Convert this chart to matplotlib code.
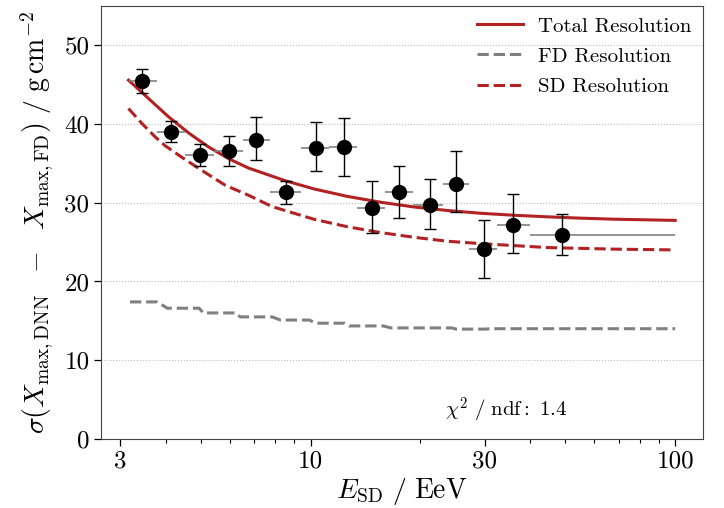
import numpy as np
import matplotlib
matplotlib.use("Agg")
import matplotlib.pyplot as plt
from matplotlib.ticker import FixedLocator, FixedFormatter, NullFormatter

plt.rcParams["font.family"] = "serif"
plt.rcParams["font.serif"] = ["cmr10"]
plt.rcParams["mathtext.fontset"] = "cm"
plt.rcParams["axes.unicode_minus"] = False

# data points (E_SD in EeV, resolution in g/cm^2)
e_pts = [3.45, 4.13, 4.98, 5.98, 7.06, 8.57, 10.35, 12.3, 14.7, 17.5, 21.3, 25.1, 29.9, 35.9, 49.0]
res_pts = [45.4, 39.0, 36.0, 36.6, 38.0, 31.3, 37.0, 37.1, 29.3, 31.4, 29.7, 32.4, 24.1, 27.2, 25.9]
res_hi = [47.0, 40.4, 37.4, 38.4, 40.9, 32.7, 40.3, 40.8, 32.7, 34.6, 33.0, 36.6, 27.8, 31.1, 28.6]
res_lo = [43.9, 37.7, 34.6, 34.6, 35.4, 29.8, 34.0, 33.4, 26.2, 28.1, 26.6, 28.8, 20.5, 23.6, 23.3]
bin_edges = [3.18, 3.79, 4.52, 5.44, 6.53, 7.74, 9.42, 11.24, 13.4, 16.0, 19.1, 23.1, 27.2, 32.5, 40.0, 100.0]

# curves
e_tot = [3.16, 3.59, 4.07, 4.62, 5.23, 5.94, 6.74, 8.49, 10.19, 12.58, 15.56, 19.22, 23.75,
         29.3, 36.15, 44.69, 55.2, 68.1, 100]
res_tot = [45.55, 43.2, 40.9, 38.85, 37.1, 35.6, 34.4, 32.8, 31.75, 30.8, 30.05, 29.45, 29.0,
           28.65, 28.4, 28.2, 28.03, 27.9, 27.75]

e_sd = [3.16, 3.44, 3.74, 3.99, 4.43, 5.02, 5.83, 6.74, 7.83, 10.19, 12.58, 15.56, 19.22, 23.75,
        29.3, 36.15, 44.69, 68.1, 100]
res_sd = [41.95, 40.05, 38.35, 37.2, 35.75, 34.1, 32.2, 30.95, 29.5, 27.9, 26.95, 26.2, 25.6, 25.1,
          24.8, 24.55, 24.3, 24.1, 24.0]

e_fd = [3.19, 3.79, 4.04, 4.94, 5.07, 6.24, 6.40, 7.83, 8.26, 9.92, 10.3, 12.4, 12.75, 15.8, 16.6, 24.4, 25.0, 30.2, 31.0, 100]
res_fd = [17.4, 17.4, 16.6, 16.6, 16.0, 16.0, 15.5, 15.5, 15.1, 15.1, 14.7, 14.7, 14.35, 14.35,
          14.1, 14.1, 13.95, 13.95, 14.0, 14.0]

red = "#b22222"

fig = plt.figure(figsize=(7.24, 5.08), dpi=100)
ax = fig.add_axes([0.1398, 0.1358, 0.8308, 0.853])

ax.plot(e_tot, res_tot, color=red, lw=2.2, label="Total Resolution", zorder=2)
ax.plot(e_fd, res_fd, color="gray", lw=2.2, ls="--", label="FD Resolution", zorder=2)
ax.plot(e_sd, res_sd, color=red, lw=2.2, ls="--", label="SD Resolution", zorder=2)

x = np.array(e_pts)
edges = np.array(bin_edges)
xerr = [x - edges[:-1], edges[1:] - x]
y = np.array(res_pts)
yerr = [y - np.array(res_lo), np.array(res_hi) - y]

ax.errorbar(x, y, xerr=xerr, fmt="none", ecolor="gray", elinewidth=1.2, zorder=3)
ax.errorbar(x, y, yerr=yerr, fmt="o", color="k", ms=10, ecolor="k",
            elinewidth=1.0, capsize=4.5, capthick=1.0, zorder=4)

ax.set_xscale("log")
ax.set_xlim(2.66, 119)
ax.set_ylim(0, 55)
ax.xaxis.set_major_locator(FixedLocator([3, 10, 30, 100]))
ax.xaxis.set_major_formatter(FixedFormatter(["3", "10", "30", "100"]))
ax.xaxis.set_minor_locator(FixedLocator([4, 5, 6, 7, 8, 9, 20, 40, 50, 60, 70, 80, 90]))
ax.xaxis.set_minor_formatter(NullFormatter())
ax.set_yticks([0, 10, 20, 30, 40, 50])
ax.tick_params(axis="both", which="major", labelsize=18, length=5, width=0.9, direction="out")
ax.tick_params(axis="both", which="minor", length=3, width=0.8, direction="out")
ax.yaxis.grid(True, ls=":", color="#bbbbbb", lw=0.8)
ax.set_axisbelow(True)
for s in ax.spines.values():
    s.set_color("#444444")

ax.set_xlabel(r"$E_\mathrm{SD}\ /\ \mathrm{EeV}$", fontsize=20, labelpad=2)
ax.set_ylabel(r"$\sigma(X_\mathrm{max,DNN}\ \ -\ \ X_\mathrm{max,FD})\ /\ \mathrm{g\,cm^{-2}}$",
              fontsize=20, labelpad=6)

ax.text(0.572, 0.067, r"$\chi^2\ /\ \mathrm{ndf}:\ 1.4$", transform=ax.transAxes,
        fontsize=15, ha="left", va="center")

ax.legend(loc="upper right", fontsize=15, frameon=False, handlelength=2.2,
          borderaxespad=0.15, labelspacing=0.55, handletextpad=0.7)

fig.savefig("out.png", dpi=100)
